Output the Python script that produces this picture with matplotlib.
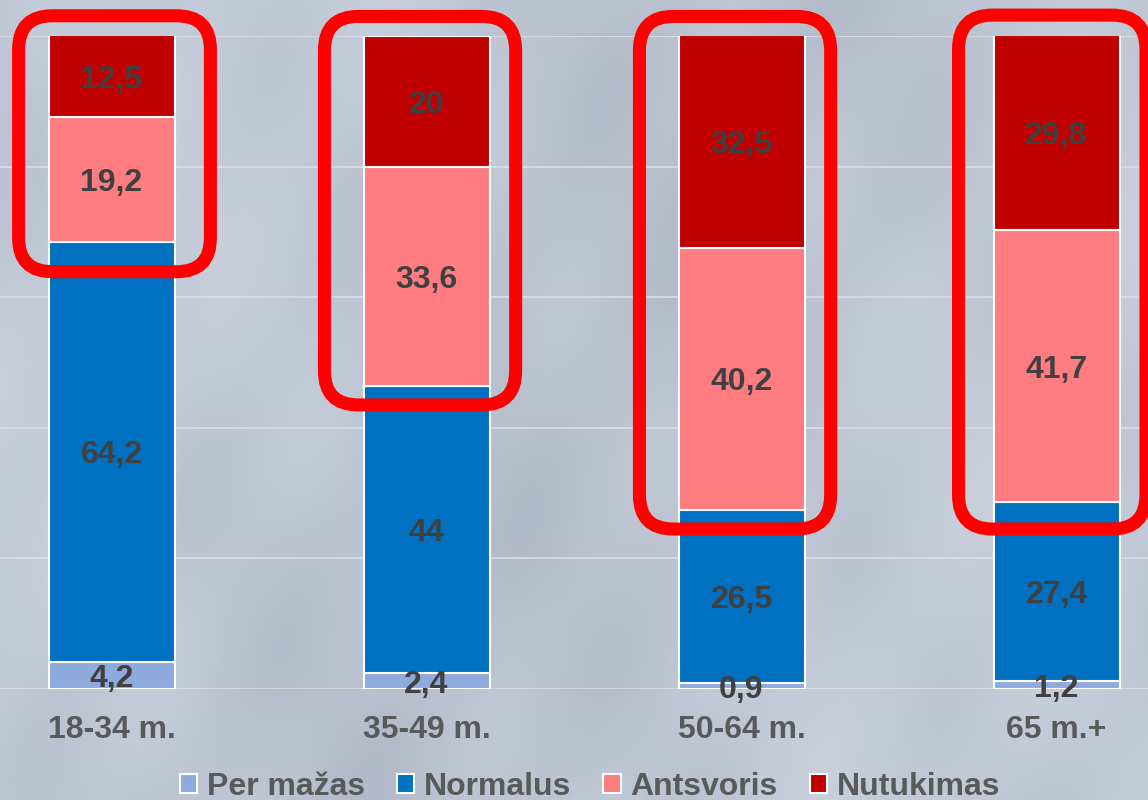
import numpy as np
import matplotlib
matplotlib.use('Agg')
import matplotlib.pyplot as plt
from matplotlib.patches import FancyBboxPatch, Patch
from matplotlib.colors import LinearSegmentedColormap

# Data (percent of each age group)
categories = ['18-34 m.', '35-49 m.', '50-64 m.', '65 m.+']
per_mazas = [4.2, 2.4, 0.9, 1.2]
normalus = [64.2, 44, 26.5, 27.4]
antsvoris = [19.2, 33.6, 40.2, 41.7]
nutukimas = [12.5, 20, 32.5, 29.8]
series_names = ['Per mažas', 'Normalus', 'Antsvoris', 'Nutukimas']
series_values = [per_mazas, normalus, antsvoris, nutukimas]
colors = ['#8FAADC', '#0070C0', '#FF7C80', '#C00000']

# highlighted groups: (x from, x to, y from, y to) in bar/percent units
highlights = [(-0.295, 0.314, 63.9, 103.1),
              (0.676, 1.283, 43.5, 103.0),
              (1.676, 2.283, 24.5, 103.0),
              (2.689, 3.284, 24.5, 103.2)]

plt.rcParams['font.family'] = ['Liberation Sans', 'DejaVu Sans']

fig = plt.figure(figsize=(11.48, 8), dpi=100)

# soft grey-blue background
bg = fig.add_axes([0, 0, 1, 1])
bg.axis('off')
yy, xx = np.mgrid[0:1:400j, 0:1:574j]
tex = (0.5 + 0.18 * np.sin(xx * 7 + yy * 2.5)
       + 0.12 * np.sin(xx * 23 - yy * 9)
       + 0.08 * np.sin(xx * 41 + yy * 17))
tex = (tex - tex.min()) / (tex.max() - tex.min())
bg_cmap = LinearSegmentedColormap.from_list('bg', ['#b2bac9', '#bec6d4', '#c9d0dc'])
bg.imshow(tex, extent=[0, 1, 0, 1], aspect='auto', cmap=bg_cmap, zorder=0)
bg.set_xlim(0, 1)
bg.set_ylim(0, 1)

ax = fig.add_axes([-46 / 1148, 111 / 800, 1260 / 1148, 653 / 800])
ax.set_facecolor('none')
x = np.arange(len(categories))
bottom = np.zeros(len(categories))
for vals, name, c in zip(series_values, series_names, colors):
    ax.bar(x, vals, 0.4, bottom=bottom, color=c, edgecolor='white',
           linewidth=1.5, label=name, zorder=3)
    for xi, b, v in zip(x, bottom, vals):
        ax.text(xi, b + v / 2, f'{v:g}'.replace('.', ','), ha='center',
                va='center_baseline', fontsize=23, fontweight='bold',
                color='#404040', zorder=4)
    bottom += np.array(vals)

ax.set_xlim(-0.5, 3.5)
ax.set_ylim(0, 100)
ax.set_yticks(range(0, 101, 20))
ax.yaxis.grid(True, color='#d9dce2', linewidth=1.3)
ax.set_axisbelow(True)
ax.tick_params(axis='y', length=0, labelleft=False)
ax.set_xticks(x, categories)
ax.tick_params(axis='x', length=0, pad=19, labelsize=23, labelcolor='#595959')
for lbl in ax.get_xticklabels():
    lbl.set_fontweight('bold')
for s in ax.spines.values():
    s.set_visible(False)

handles = [Patch(facecolor=c, edgecolor='white', linewidth=1.5) for c in colors]
fig.legend(handles, series_names, loc='center', bbox_to_anchor=(590 / 1148, 13 / 800),
           ncol=4, frameon=False, prop={'size': 23, 'weight': 'bold'},
           labelcolor='#595959', handlelength=0.55, handleheight=0.55,
           handletextpad=0.3, columnspacing=1.0)

# red rounded frames drawn in pixel space so the corners stay circular
ov = fig.add_axes([0, 0, 1, 1], zorder=10)
ov.axis('off')
ov.set_xlim(0, 1148)
ov.set_ylim(0, 800)
ov.patch.set_alpha(0)
for x0, x1, y0, y1 in highlights:
    (px0, py0), (px1, py1) = ax.transData.transform([(x0, y0), (x1, y1)])
    ov.add_patch(FancyBboxPatch((px0, py0), px1 - px0, py1 - py0,
                                boxstyle='round,pad=0,rounding_size=34',
                                fill=False, edgecolor='#FF0000', linewidth=9.4))

fig.savefig('out.png', dpi=100)
